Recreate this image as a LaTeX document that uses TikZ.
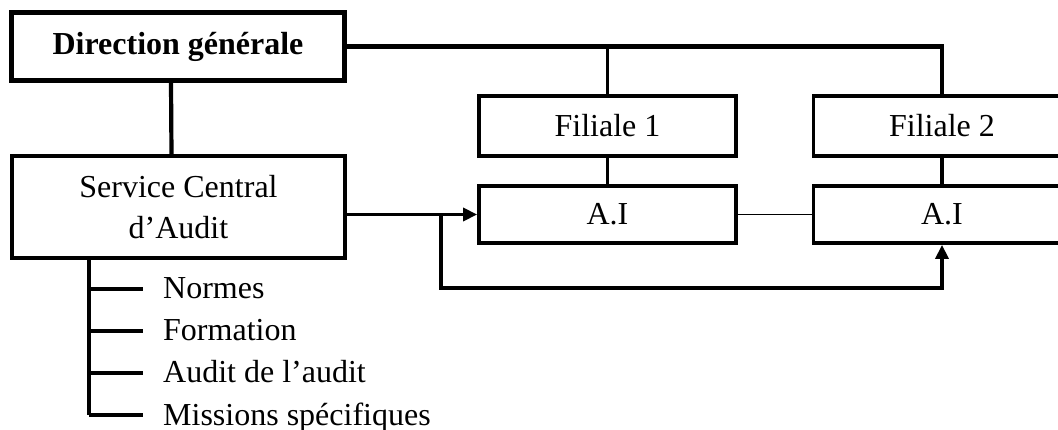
\documentclass[tikz,border=0pt]{standalone}
\usepackage{fontspec}
\setmainfont{Liberation Serif}
\usepackage{tikz}
\usetikzlibrary{arrows.meta}

\tikzset{
  unitbox/.style={draw, line width=3.8pt, rectangle, inner sep=0pt, align=center,
    font=\fontsize{32}{41}\selectfont},
  link/.style={line width=3.8pt},
  thinlink/.style={line width=1.6pt},
  arr/.style={line width=3.8pt, -{Triangle[length=14pt,width=13pt]}},
  itemtext/.style={inner sep=0pt, anchor=base west, font=\fontsize{32}{38}\selectfont}
}

\begin{document}
\begin{tikzpicture}[x=1pt,y=1pt,yscale=-1,xscale=1]
\useasboundingbox (0,0) rectangle (1058,430);

%Shape: Rectangle [id:dg]
\node [unitbox, line width=4.5pt, minimum width=333, minimum height=68, font=\fontsize{32}{38}\selectfont\bfseries] (dg) at (178,46.5) {Direction générale};
%Shape: Rectangle [id:sc]
\node [unitbox, minimum width=333, minimum height=102] (sc) at (178.5,207) {Service Central\\d’Audit};
%Shape: Rectangle [id:f1]
\node [unitbox, minimum width=257, minimum height=60] (f1) at (607.5,126) {Filiale 1};
%Shape: Rectangle [id:f2]
\node [unitbox, minimum width=257, minimum height=60] (f2) at (942,126) {Filiale 2};
%Shape: Rectangle [id:ai1]
\node [unitbox, minimum width=257, minimum height=57] (ai1) at (607.5,214.5) {A.I};
%Shape: Rectangle [id:ai2]
\node [unitbox, minimum width=257, minimum height=57] (ai2) at (942,214.5) {A.I};

%Straight Lines [id:top]
\draw [link, line width=4.2pt] (dg.east) -| (f2.north) ;
\draw [link] (f1.north) -- (f1.north |- dg.east) ;
\draw [link, line width=4.2pt] ([xshift=-7pt]dg.south) -- ([xshift=-7pt]sc.north) ;

%Straight Lines [id:filiales]
\draw [link] (f1.south) -- (ai1.north) ;
\draw [link] (f2.south) -- (ai2.north) ;
\draw [thinlink] (ai1.east) -- (ai2.west) ;

%Arrows [id:audit]
\coordinate (split) at (441,214.5) ;
\coordinate (loop) at (441,288) ;
\draw [arr] (sc.east |- ai1.west) -- (ai1.west) ;
\draw [arr] (split) -- (loop) -| (ai2.south) ;

%Straight Lines [id:tasks]
\coordinate (stem) at (89,258) ;
\draw [link] (stem) -- (89,415) ;
\foreach \y/\name/\txt in {289/t1/Normes, 331/t2/Formation, 373/t3/Audit de l’audit, 415/t4/Missions spécifiques}{
  \coordinate (\name) at (89,\y) ;
  \draw [link] (\name) -- ++(54,0) ;
  \node [itemtext] (\name txt) at (163,\y+10) {\txt};
}
\end{tikzpicture}
\end{document}
